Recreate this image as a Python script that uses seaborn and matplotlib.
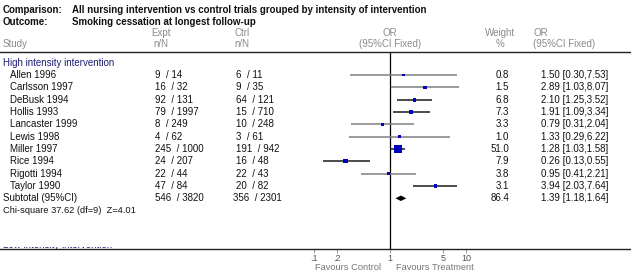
import numpy as np
import pandas as pd
import matplotlib
matplotlib.use("Agg")
import matplotlib.pyplot as plt
from matplotlib.transforms import Bbox
import seaborn as sns

# ---------------- data ----------------
studies = ["Allen 1996", "Carlsson 1997", "DeBusk 1994", "Hollis 1993", "Lancaster 1999",
           "Lewis 1998", "Miller 1997", "Rice 1994", "Rigotti 1994", "Taylor 1990"]
expt_n = [9, 16, 92, 79, 8, 4, 245, 24, 22, 47]
expt_N = [14, 32, 131, 1997, 249, 62, 1000, 207, 44, 84]
ctrl_n = [6, 9, 64, 15, 10, 3, 191, 16, 22, 20]
ctrl_N = [11, 35, 121, 710, 248, 61, 942, 48, 43, 82]
weights = [0.8, 1.5, 6.8, 7.3, 3.3, 1.0, 51.0, 7.9, 3.8, 3.1]
or_est = [1.50, 2.89, 2.10, 1.91, 0.79, 1.33, 1.28, 0.26, 0.95, 3.94]
or_lo = [0.30, 1.03, 1.25, 1.09, 0.31, 0.29, 1.03, 0.13, 0.41, 2.03]
or_hi = [7.53, 8.07, 3.52, 3.34, 2.04, 6.22, 1.58, 0.55, 2.21, 7.64]
line_dark = [False, False, True, True, False, False, True, True, False, True]

sub_expt = (546, 3820)
sub_ctrl = (356, 2301)
sub_weight = 86.4
sub_or = (1.39, 1.18, 1.64)
heterogeneity = "Chi-square 37.62 (df=9)  Z=4.01"

xticks = [0.1, 0.2, 1, 5, 10]
xticklabels = [".1", ".2", "1", "5", "10"]

# ---------------- figure ----------------
W, H = 631, 273
sns.set_theme(style="white")
plt.rcParams["font.family"] = ["Liberation Sans", "DejaVu Sans"]
fig = plt.figure(figsize=(W / 100, H / 100), dpi=100)

def px(x, y):
    return x / W, 1 - y / H

def ftext(x, y, s, **kw):
    kw.setdefault("va", "center")
    kw.setdefault("fontsize", 7)
    kw.setdefault("color", "#111111")
    return fig.text(*px(x, y), s, **kw)

# forest axes: header line at y=52, axis at y=249; OR=1 at x=390, 76 px/decade
top_px, bot_px = 52, 249
row0, rstep = 75, 12.33
ax = fig.add_axes([0, 1 - bot_px / H, 1, (bot_px - top_px) / H])
ax.patch.set_visible(False)
ax.set_xscale("log")
ax.set_xlim(10 ** (-390 / 76), 10 ** ((W - 390) / 76))
ax.set_ylim((bot_px - row0) / rstep, (top_px - row0) / rstep)

df = pd.DataFrame({"study": studies, "w": weights, "est": or_est, "lo": or_lo,
                   "hi": or_hi, "dark": line_dark})
df["row"] = np.arange(len(df))

for _, r in df.iterrows():
    ax.hlines(r["row"], r["lo"], r["hi"], colors="#1a1a1a" if r["dark"] else "#808080",
              lw=1.1, zorder=2)
sns.scatterplot(data=df, x="est", y="row", size="w", sizes=(4.5, 34.0), marker="s",
                color="#0000c0", linewidth=0, legend=False, ax=ax, zorder=3)

# subtotal diamond
yd = len(df)
est, lo, hi = sub_or
h = 0.22
ax.fill([lo, est, hi, est], [yd, yd - h, yd, yd + h], color="black", lw=0, zorder=3)

ax.axvline(1, color="black", lw=0.9, zorder=1)

ax.set_xticks(xticks)
ax.set_xticklabels(xticklabels)
ax.xaxis.set_minor_locator(matplotlib.ticker.NullLocator())
ax.set_yticks([])
ax.tick_params(axis="x", direction="out", length=3, width=0.6, color="#888888",
               labelsize=6.5, labelcolor="#555555", pad=0.5, bottom=True)
for s in ["left", "right"]:
    ax.spines[s].set_visible(False)
for s in ["top", "bottom"]:
    ax.spines[s].set_visible(True)
    ax.spines[s].set_color("#222222")
    ax.spines[s].set_linewidth(1.0)
ax.set_xlabel("")
ax.set_ylabel("")

# ---------------- text ----------------
tf = 7.0
ftext(3, 10, "Comparison:", fontweight="bold", fontsize=tf)
ftext(72, 10, "All nursing intervention vs control trials grouped by intensity of intervention",
      fontweight="bold", fontsize=tf)
ftext(3, 22, "Outcome:", fontweight="bold", fontsize=tf)
ftext(72, 22, "Smoking cessation at longest follow-up", fontweight="bold", fontsize=tf)

grey = "#8a8a8a"
ftext(161, 33, "Expt", ha="center", color=grey)
ftext(242, 33, "Ctrl", ha="center", color=grey)
ftext(390, 33, "OR", ha="center", color=grey)
ftext(500, 33, "Weight", ha="center", color=grey)
ftext(533, 33, "OR", color=grey)
ftext(3, 44, "Study", color=grey)
ftext(161, 44, "n/N", ha="center", color=grey)
ftext(242, 44, "n/N", ha="center", color=grey)
ftext(390, 44, "(95%CI Fixed)", ha="center", color=grey)
ftext(500, 44, "%", ha="center", color=grey)
ftext(533, 44, "(95%CI Fixed)", color=grey)

ftext(3, 63, "High intensity intervention", color="#1c1c70")

for i in range(len(studies)):
    y = row0 + rstep * i
    ftext(10, y, studies[i])
    ftext(155, y, f"{expt_n[i]}  / {expt_N[i]}")
    ftext(236, y, f"{ctrl_n[i]}  / {ctrl_N[i]}")
    ftext(509, y, f"{weights[i]:.1f}", ha="right")
    ftext(541, y, f"{or_est[i]:.2f} [{or_lo[i]:.2f},{or_hi[i]:.2f}]")

ys = row0 + rstep * len(studies)
ftext(3, ys, "Subtotal (95%CI)")
ftext(155, ys, f"{sub_expt[0]}  / {sub_expt[1]}")
ftext(233, ys, f"{sub_ctrl[0]}  / {sub_ctrl[1]}")
ftext(509, ys, f"{sub_weight:.1f}", ha="right")
ftext(541, ys, f"{sub_or[0]:.2f} [{sub_or[1]:.2f},{sub_or[2]:.2f}]")
ftext(3, ys + 12.5, heterogeneity, fontsize=6.7)

# next group heading, cut off by the axis line
t = ftext(3, 244.5, "Low intensity intervention", color="#1c1c70")
t.set_clip_box(Bbox.from_extents(0, H - 249, 200, H - 247))
t.set_clip_on(True)

ftext(348, 267, "Favours Control", ha="center", color="#777777", fontsize=6.7)
ftext(435, 267, "Favours Treatment", ha="center", color="#777777", fontsize=6.7)

fig.savefig("out.png", dpi=100)
